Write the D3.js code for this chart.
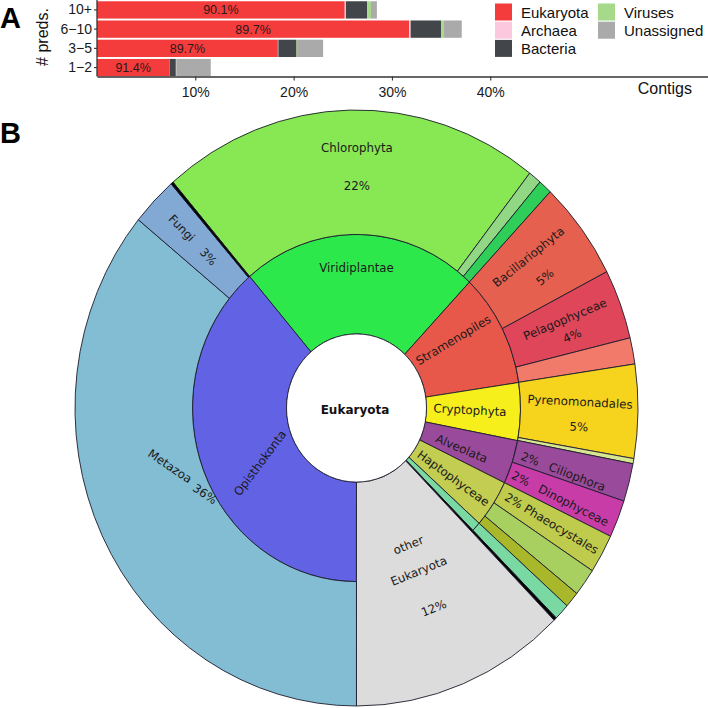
<!DOCTYPE html>
<html><head><meta charset="utf-8">
<script src="https://cdn.jsdelivr.net/npm/d3@7"></script>
<style>
html,body{margin:0;padding:0;background:#fff;}
svg{display:block;}
</style></head>
<body>
<svg id="chart" width="708" height="708"></svg>
<script>
// ---------- Panel A data ----------
const predCategories = ["10+", "6\u221210", "3\u22125", "1\u22122"];
const kingdoms = ["Eukaryota", "Archaea", "Bacteria", "Viruses", "Unassigned"];
const kingdomColors = ["#f53c3c", "#fbc8de", "#424549", "#a6da8a", "#aaaaaa"];
const eukaryotaPct = [25.2, 31.75, 18.4, 7.35];
const archaeaPct   = [0.12, 0.15, 0.05, 0.02];
const bacteriaPct  = [2.15, 3.1, 1.85, 0.65];
const virusesPct   = [0.4, 0.3, 0.05, 0.05];
const unassignedPct= [0.6, 1.8, 2.65, 3.5];
const eukShareLabels = ["90.1%", "89.7%", "89.7%", "91.4%"];
const xTicks = [10, 20, 30, 40];

// ---------- Panel B data (share of eukaryotic contigs, %) ----------
const innerNames  = ["Viridiplantae","Stramenopiles","Cryptophyta","Alveolata","Haptophyceae","minor lineage A","minor lineage B","other Eukaryota","Opisthokonta"];
const innerValues = [23.4, 10.56, 5.36, 4.08, 4.47, 0.89, 0.17, 12.39, 38.69];
const innerColors = ["#2de84b","#e8584a","#f6ef1c","#9a4a9a","#c2cd52","#7ad8a2","#000000","#dcdcdc","#6262e4"];

const outerNames  = ["Chlorophyta","Viridiplantae minor 1","Viridiplantae minor 2","Bacillariophyta","Pelagophyceae","Stramenopiles minor",
  "Pyrenomonadales","Cryptophyta minor","Ciliophora","Dinophyceae","Phaeocystales","Haptophyceae minor 1","Haptophyceae minor 2",
  "minor lineage A","minor lineage B","other Eukaryota","Metazoa","Fungi","Opisthokonta minor"];
const outerValues = [21.86, 0.75, 0.78, 5.36, 3.78, 1.42, 5.08, 0.28, 2.06, 2.03, 2.11, 1.5, 0.86, 0.89, 0.17, 12.39, 35.89, 2.67, 0.14];
const outerColors = ["#88e854","#92d884","#2fce58","#e6604f","#e0465a","#f27a6a","#f6d31c","#d8e690","#9a4a9a","#c83ca8",
  "#bfcb4c","#a8d060","#a8b82a","#7ad8a2","#000000","#dcdcdc","#82bdd3","#82a9d4","#000000"];
const centerLabel = "Eukaryota";

const svg = d3.select("#chart");

// ================= Panel A =================
const A = svg.append("g");
const x = d3.scaleLinear().domain([0, 62.15]).range([97, 708]);
const y = d3.scaleBand().domain(predCategories).range([0.3, 77.2]).paddingInner(0.1).paddingOuter(0.05);

const rows = predCategories.map((c, i) => ({cat: c, Eukaryota: eukaryotaPct[i], Archaea: archaeaPct[i], Bacteria: bacteriaPct[i], Viruses: virusesPct[i], Unassigned: unassignedPct[i]}));
const stack = d3.stack().keys(kingdoms)(rows);
const color = d3.scaleOrdinal().domain(kingdoms).range(kingdomColors);

A.selectAll("g.series").data(stack).join("g").attr("fill", d => color(d.key))
  .selectAll("rect").data(d => d).join("rect")
  .attr("x", d => x(d[0])).attr("width", d => Math.max(0, x(d[1]) - x(d[0])))
  .attr("y", d => y(d.data.cat)).attr("height", y.bandwidth());

A.selectAll("text.share").data(rows).join("text")
  .attr("x", d => (x(0) + x(d.Eukaryota)) / 2).attr("y", d => y(d.cat) + y.bandwidth() / 2 + 4.5)
  .attr("text-anchor", "middle").attr("font-family", "Liberation Sans, Arial, sans-serif")
  .attr("font-size", 12.5).attr("fill", "#2a1a1a").text((d, i) => eukShareLabels[i]);

const axisY = 76.5;
const xAxis = A.append("g").attr("transform", `translate(0,${axisY})`)
  .call(d3.axisBottom(x).tickValues(xTicks).tickFormat(d => d + "%").tickSize(4).tickSizeOuter(0));
xAxis.select(".domain").attr("stroke", "#333").attr("stroke-width", 1.3);
xAxis.selectAll(".tick line").attr("stroke", "#333").attr("stroke-width", 1.1);
xAxis.selectAll(".tick text").attr("font-family", "Liberation Sans, Arial, sans-serif").attr("font-size", 14).attr("fill", "#1a1a1a").attr("dy", "0.95em");

const yAxis = A.append("g").attr("transform", `translate(97,0)`)
  .call(d3.axisLeft(y).tickSize(3).tickSizeOuter(0));
yAxis.select(".domain").attr("stroke", "#333").attr("stroke-width", 1.3).attr("d", `M0,0V${axisY}`);
yAxis.selectAll(".tick line").attr("stroke", "#333").attr("stroke-width", 1.1);
yAxis.selectAll(".tick text").attr("font-family", "Liberation Sans, Arial, sans-serif").attr("font-size", 14).attr("fill", "#1a1a1a").attr("x", -5);

A.append("text").attr("x", 692).attr("y", 94).attr("text-anchor", "end")
  .attr("font-family", "Liberation Sans, Arial, sans-serif").attr("font-size", 16).attr("fill", "#111").text("Contigs");
A.append("text").attr("transform", "translate(48,37) rotate(-90)").attr("text-anchor", "middle")
  .attr("font-family", "Liberation Sans, Arial, sans-serif").attr("font-size", 16).attr("fill", "#111").text("# preds.");
A.append("text").attr("x", 0).attr("y", 28).attr("font-family", "Liberation Sans, Arial, sans-serif")
  .attr("font-weight", "bold").attr("font-size", 29).text("A");

// legend
const leg = A.append("g");
kingdoms.forEach((k, i) => {
  const col = i < 3 ? 0 : 1, row = i < 3 ? i : i - 3;
  const lx = col === 0 ? 495 : 598, ly = 3.5 + row * 18.2;
  leg.append("rect").attr("x", lx).attr("y", ly).attr("width", 17).attr("height", 17).attr("fill", kingdomColors[i]);
  leg.append("text").attr("x", lx + 26).attr("y", ly + 14).attr("font-family", "Liberation Sans, Arial, sans-serif")
    .attr("font-size", 15).attr("fill", "#111").text(k);
});

// ================= Panel B =================
svg.append("text").attr("x", 0).attr("y", 143).attr("font-family", "Liberation Sans, Arial, sans-serif")
  .attr("font-weight", "bold").attr("font-size", 29).text("B");

const cx = 356.5, cy = 408, sy = 1.0586;
const R0 = 70, R1 = 164, R2 = 281.5;
const start = -40.7 * Math.PI / 180;
const pie = d3.pie().sort(null).value(d => d.v).startAngle(start).endAngle(start + 2 * Math.PI);

const innerData = pie(innerNames.map((n, i) => ({n, v: innerValues[i], c: innerColors[i]})));
const outerData = pie(outerNames.map((n, i) => ({n, v: outerValues[i], c: outerColors[i]})));

const B = svg.append("g").attr("transform", `translate(${cx},${cy}) scale(1,${sy})`);
const arcIn = d3.arc().innerRadius(R0).outerRadius(R1);
const arcOut = d3.arc().innerRadius(d => d.data.n === "other Eukaryota" ? R0 : R1).outerRadius(R2);
const strokeCol = "#1c1c2c";

B.selectAll("path.in").data(innerData.filter(d => d.data.n !== "other Eukaryota")).join("path")
  .attr("d", arcIn).attr("fill", d => d.data.c).attr("stroke", strokeCol).attr("stroke-width", 0.9)
  .attr("vector-effect", "non-scaling-stroke");
B.selectAll("path.out").data(outerData).join("path")
  .attr("d", arcOut).attr("fill", d => d.data.c).attr("stroke", strokeCol).attr("stroke-width", 0.9)
  .attr("vector-effect", "non-scaling-stroke");
B.append("circle").attr("r", R0).attr("fill", "#fff").attr("stroke", strokeCol).attr("stroke-width", 0.9)
  .attr("vector-effect", "non-scaling-stroke");

// label layout (polar anchor in degrees clockwise from top, radius, rotation, line gap)
const pos = (a, r) => { const t = a * Math.PI / 180; return [cx + r * Math.sin(t), cy - r * Math.cos(t) * sy]; };
const labelLayout = [
  {lines: ["Chlorophyta", "22%"], a: 0.1, r: 245.6, rot: 0, gaps: [38]},
  {lines: ["Viridiplantae"], a: 0, r: 132, rot: 0},
  {lines: ["Fungi"], a: 314.2, r: 243.7, rot: 46},
  {lines: ["3%"], a: 314.0, r: 205.9, rot: 46},
  {lines: ["Metazoa"], a: 253.6, r: 194.4, rot: 34},
  {lines: ["36%"], a: 241.8, r: 171.9, rot: 34},
  {lines: ["Opisthokonta"], a: 241.7, r: 109.6, rot: -53},
  {lines: ["Bacillariophyta", "5%"], a: 50.3, r: 223.5, rot: -39, gaps: [26]},
  {lines: ["Pelagophyceae", "4%"], a: 68.1, r: 224.7, rot: -23, gaps: [18]},
  {lines: ["Stramenopiles"], a: 56.4, r: 116.2, rot: -31},
  {lines: ["Cryptophyta"], a: 91, r: 113.5, rot: 3},
  {lines: ["Pyrenomonadales", "5%"], a: 88.5, r: 223.6, rot: 3, gaps: [25]},
  {lines: ["Alveolata"], a: 110, r: 111.9, rot: 23},
  {lines: ["2%   Ciliophora"], a: 106.2, r: 215.2, rot: 21},
  {lines: ["2%   Dinophyceae"], a: 112.8, r: 220.9, rot: 27},
  {lines: ["2% Phaeocystales"], a: 119.2, r: 223.5, rot: 31},
  {lines: ["Haptophyceae"], a: 124.4, r: 117.4, rot: 36},
  {lines: ["other", "Eukaryota", "12%"], a: 158.2, r: 139.4, rot: -22, gaps: [28, 40]}
];
const LB = svg.append("g").attr("font-family", "DejaVu Sans, Verdana, sans-serif").attr("font-size", 11.8).attr("fill", "#1a1a1a");
labelLayout.forEach(L => {
  const [px, py] = pos(L.a, L.r);
  const g = LB.append("g").attr("transform", `translate(${px},${py}) rotate(${L.rot})`);
  let off = 0;
  L.lines.forEach((t, i) => {
    if (i > 0) off += L.gaps[i - 1];
    g.append("text").attr("y", off).attr("dy", "0.35em").attr("text-anchor", "middle")
      .style("white-space", "pre").text(t);
  });
});
svg.append("text").attr("x", cx - 1.5).attr("y", cy + 2).attr("dy", "0.35em").attr("text-anchor", "middle")
  .attr("font-family", "DejaVu Sans, Verdana, sans-serif").attr("font-weight", "bold").attr("font-size", 12).attr("fill", "#111")
  .text(centerLabel);
</script>
</body></html>
